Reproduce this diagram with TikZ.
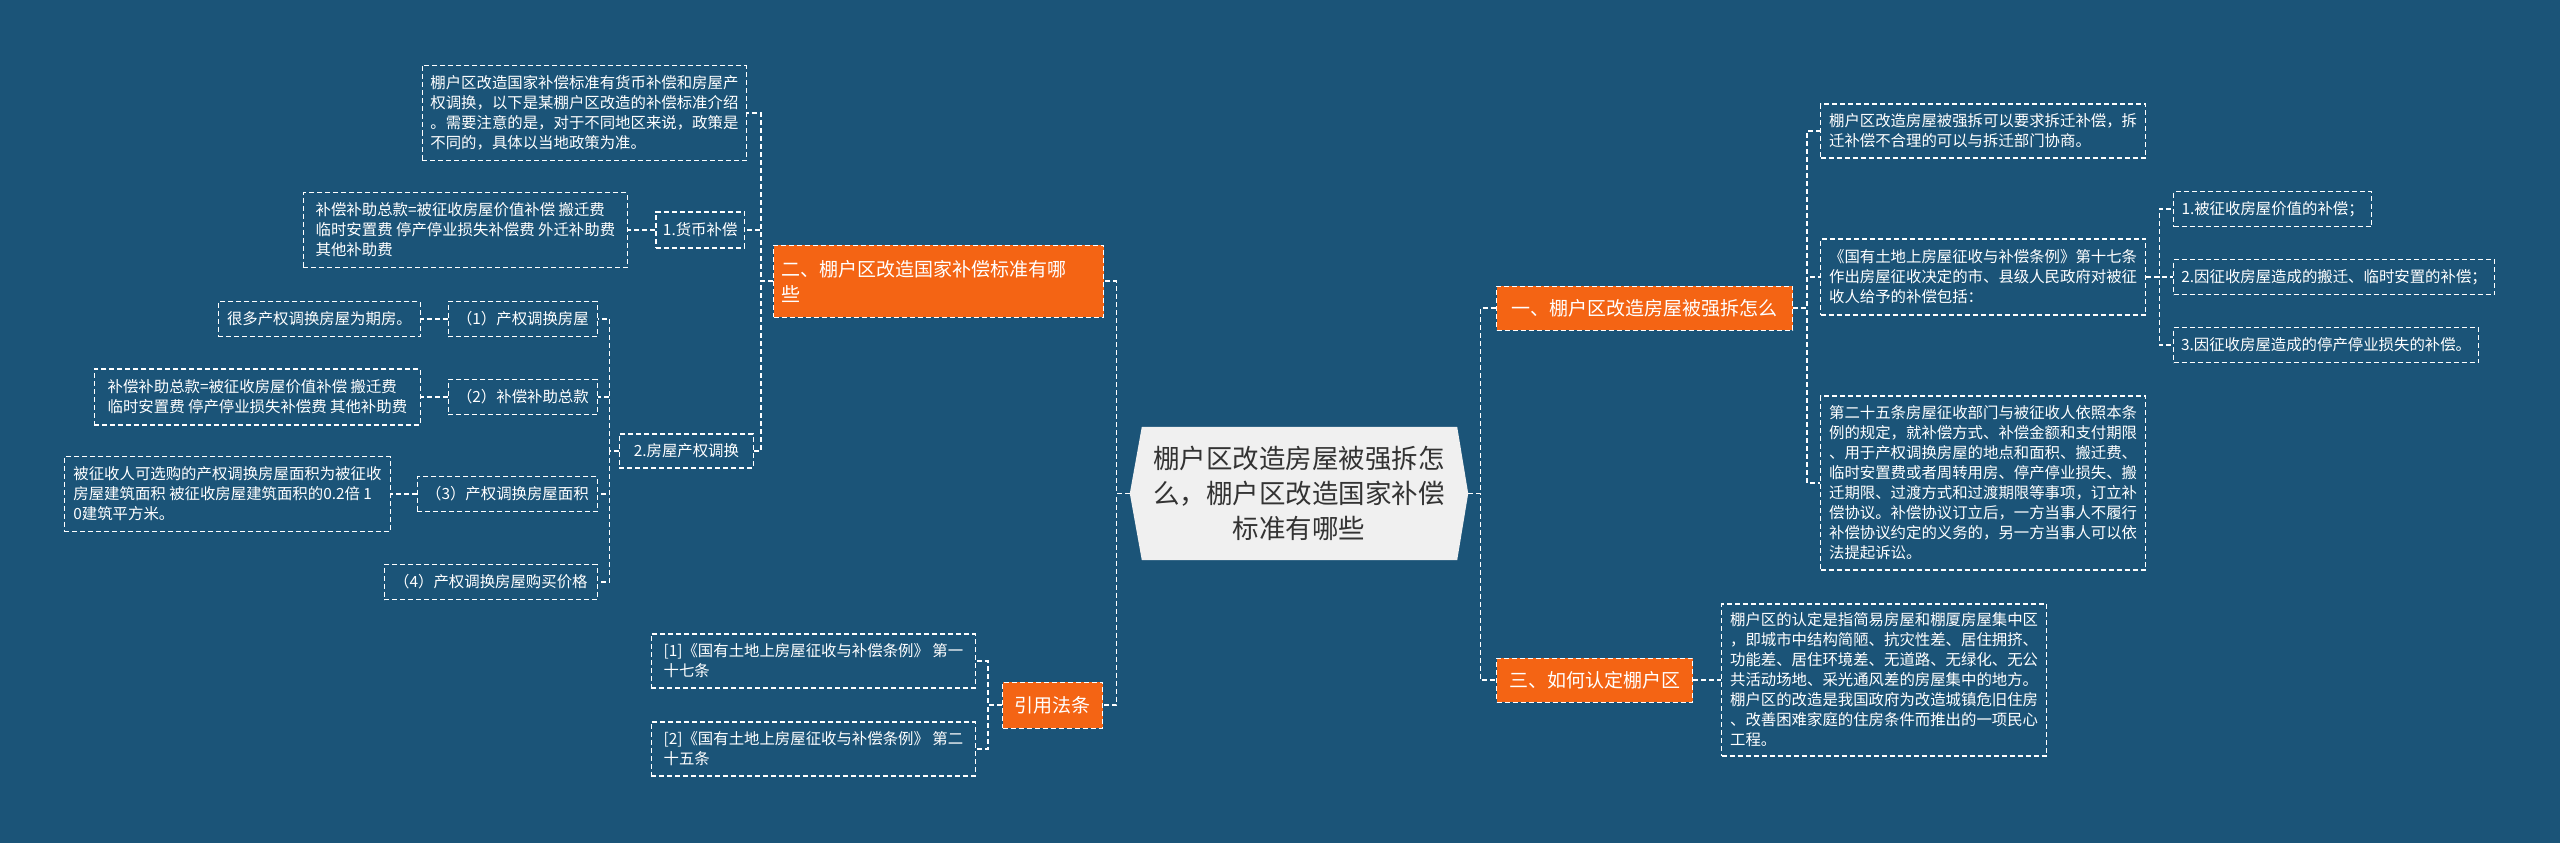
\documentclass[tikz,border=0pt]{standalone}
\usepackage{fontspec}
\setmainfont{Noto Sans CJK SC}
\usetikzlibrary{backgrounds}
\definecolor{bg}{RGB}{27,84,120}
\definecolor{org}{RGB}{244,100,20}
\definecolor{cfill}{RGB}{240,240,240}
\definecolor{ctext}{RGB}{51,51,51}
\tikzset{
  leaf/.style={draw=white, dash pattern=on 5pt off 3pt, line width=1.2pt, text=white,
    font=\fontsize{15.4}{20}\selectfont, align=left, inner xsep=7pt, inner ysep=6pt},
  branch/.style={fill=org, draw=white, dash pattern=on 5pt off 3pt, line width=1pt, text=white,
    font=\fontsize{19}{25}\selectfont, align=left, inner xsep=8pt, inner ysep=5pt},
  conn/.style={draw=white, dash pattern=on 5pt off 3pt, line width=1.2pt},
  hub/.style={text=ctext, font=\fontsize{26.5}{35}\selectfont, align=center,
    minimum width=338pt, minimum height=133pt, inner sep=0pt},
}
\begin{document}
\begin{tikzpicture}[x=1pt,y=-1pt]
\begin{scope}[on background layer]
\fill[bg] (0,0) rectangle (2560,843);
\end{scope}

% centre
\node[hub] (C) at (1299,493.5) {棚户区改造房屋被强拆怎\\么，棚户区改造国家补偿\\标准有哪些};
\begin{scope}[on background layer]
\fill[cfill] ([xshift=12pt]C.north west) -- ([xshift=-11pt]C.north east) -- (C.east)
  -- ([xshift=-11pt]C.south east) -- ([xshift=12pt]C.south west) -- (C.west) -- cycle;
\end{scope}

% right side
\node[branch, anchor=west, minimum width=296pt, minimum height=44pt] (R1) at (1496,308) {一、棚户区改造房屋被强拆怎么};
\node[leaf, anchor=west, minimum width=325pt, minimum height=54pt] (R1a) at (1820,131)
  {棚户区改造房屋被强拆可以要求拆迁补偿，拆\\迁补偿不合理的可以与拆迁部门协商。};
\node[leaf, anchor=west, minimum width=325pt, minimum height=76pt] (R1b) at (1820,277)
  {《国有土地上房屋征收与补偿条例》第十七条\\作出房屋征收决定的市、县级人民政府对被征\\收人给予的补偿包括：};
\node[leaf, anchor=west, minimum width=325pt, minimum height=174pt] (R1c) at (1820,483)
  {第二十五条房屋征收部门与被征收人依照本条\\例的规定，就补偿方式、补偿金额和支付期限\\、用于产权调换房屋的地点和面积、搬迁费、\\临时安置费或者周转用房、停产停业损失、搬\\迁期限、过渡方式和过渡期限等事项，订立补\\偿协议。补偿协议订立后，一方当事人不履行\\补偿协议约定的义务的，另一方当事人可以依\\法提起诉讼。};
\node[leaf, anchor=west, minimum width=198pt, minimum height=35pt] (R1b1) at (2173,209) {1.被征收房屋价值的补偿；};
\node[leaf, anchor=west, minimum width=321pt, minimum height=35pt] (R1b2) at (2173,277) {2.因征收房屋造成的搬迁、临时安置的补偿；};
\node[leaf, anchor=west, minimum width=305pt, minimum height=35pt] (R1b3) at (2173,345) {3.因征收房屋造成的停产停业损失的补偿。};
\node[branch, anchor=west, minimum width=196pt, minimum height=44pt] (R3) at (1496,680) {三、如何认定棚户区};
\node[leaf, anchor=west, minimum width=325pt, minimum height=152pt] (R3a) at (1721,680)
  {棚户区的认定是指简易房屋和棚厦房屋集中区\\，即城市中结构简陋、抗灾性差、居住拥挤、\\功能差、居住环境差、无道路、无绿化、无公\\共活动场地、采光通风差的房屋集中的地方。\\棚户区的改造是我国政府为改造城镇危旧住房\\、改善困难家庭的住房条件而推出的一项民心\\工程。};

% left side
\node[branch, anchor=east, minimum width=330pt, minimum height=72pt, text width=314pt] (L1) at (1104,281)
  {二、棚户区改造国家补偿标准有哪\\些};
\node[leaf, anchor=east, minimum width=324pt, minimum height=95pt] (L1a) at (747,113)
  {棚户区改造国家补偿标准有货币补偿和房屋产\\权调换，以下是某棚户区改造的补偿标准介绍\\。需要注意的是，对于不同地区来说，政策是\\不同的，具体以当地政策为准。};
\node[leaf, anchor=east, minimum width=88pt, minimum height=36pt] (L1b) at (745,230) {1.货币补偿};
\node[leaf, anchor=east, minimum width=324pt, minimum height=75pt] (L1b1) at (628,230)
  {补偿补助总款=被征收房屋价值补偿 搬迁费\\临时安置费 停产停业损失补偿费 外迁补助费\\其他补助费};
\node[leaf, anchor=east, minimum width=134pt, minimum height=34pt] (L1c) at (754,451) {2.房屋产权调换};
\node[leaf, anchor=east, minimum width=149pt, minimum height=35pt] (L1c1) at (598,319) {（1）产权调换房屋};
\node[leaf, anchor=east, minimum width=202pt, minimum height=35pt] (L1c1a) at (421,319) {很多产权调换房屋为期房。};
\node[leaf, anchor=east, minimum width=149pt, minimum height=35pt] (L1c2) at (598,397) {（2）补偿补助总款};
\node[leaf, anchor=east, minimum width=326pt, minimum height=56pt] (L1c2a) at (421,397)
  {补偿补助总款=被征收房屋价值补偿 搬迁费\\临时安置费 停产停业损失补偿费 其他补助费};
\node[leaf, anchor=east, minimum width=180pt, minimum height=35pt] (L1c3) at (598,494) {（3）产权调换房屋面积};
\node[leaf, anchor=east, minimum width=326pt, minimum height=75pt] (L1c3a) at (391,494)
  {被征收人可选购的产权调换房屋面积为被征收\\房屋建筑面积 被征收房屋建筑面积的0.2倍 1\\0建筑平方米。};
\node[leaf, anchor=east, minimum width=213pt, minimum height=35pt] (L1c4) at (598,582) {（4）产权调换房屋购买价格};
\node[branch, anchor=east, minimum width=100pt, minimum height=46pt] (L2) at (1103,705) {引用法条};
\node[leaf, anchor=east, minimum width=324pt, minimum height=54pt] (L2a) at (976,661)
  {[1]《国有土地上房屋征收与补偿条例》 第一\\十七条};
\node[leaf, anchor=east, minimum width=324pt, minimum height=54pt] (L2b) at (976,749)
  {[2]《国有土地上房屋征收与补偿条例》 第二\\十五条};

% connectors right
\draw[conn] (C.east) -- ++(12,0) |- (R1.west);
\draw[conn] (C.east) -- ++(12,0) |- (R3.west);
\draw[conn] (R1.east) -- ++(14,0) |- (R1a.west);
\draw[conn] (R1.east) -- ++(14,0) |- (R1b.west);
\draw[conn] (R1.east) -- ++(14,0) |- (R1c.west);
\draw[conn] (R1b.east) -- ++(13,0) |- (R1b1.west);
\draw[conn] (R1b.east) -- ++(13,0) |- (R1b2.west);
\draw[conn] (R1b.east) -- ++(13,0) |- (R1b3.west);
\draw[conn] (R3.east) -- (R3a.west);

% connectors left
\draw[conn] (C.west) -- ++(-13,0) |- (L1.east);
\draw[conn] (C.west) -- ++(-13,0) |- (L2.east);
\draw[conn] (L1.west) -- ++(-12,0) |- (L1a.east);
\draw[conn] (L1.west) -- ++(-12,0) |- (L1b.east);
\draw[conn] (L1.west) -- ++(-12,0) |- (L1c.east);
\draw[conn] (L1b.west) -- (L1b1.east);
\draw[conn] (L1c.west) -- ++(-9,0) |- (L1c1.east);
\draw[conn] (L1c.west) -- ++(-9,0) |- (L1c2.east);
\draw[conn] (L1c.west) -- ++(-9,0) |- (L1c3.east);
\draw[conn] (L1c.west) -- ++(-9,0) |- (L1c4.east);
\draw[conn] (L1c1.west) -- (L1c1a.east);
\draw[conn] (L1c2.west) -- (L1c2a.east);
\draw[conn] (L1c3.west) -- (L1c3a.east);
\draw[conn] (L2.west) -- ++(-14,0) |- (L2a.east);
\draw[conn] (L2.west) -- ++(-14,0) |- (L2b.east);
\end{tikzpicture}
\end{document}
